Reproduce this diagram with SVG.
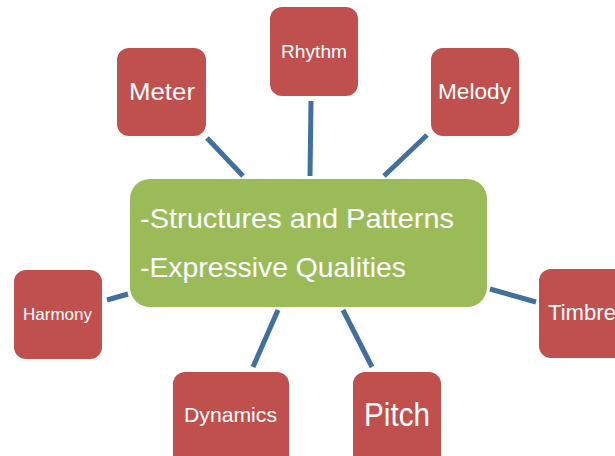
<svg xmlns="http://www.w3.org/2000/svg" width="615" height="456" viewBox="0 0 615 456">
<style>
.box{fill:#c0504d;}
.center{fill:#9bbb59;}
.t{fill:#ffffff;font-family:"Liberation Sans",Arial,sans-serif;}
.c line{stroke:#41709f;stroke-width:5;}
</style>
<rect width="615" height="456" fill="#ffffff"/>
<g class="c" id="connectors">
<line x1="207" y1="138" x2="243" y2="176"/>
<line x1="311" y1="101" x2="310" y2="176"/>
<line x1="427" y1="135" x2="384" y2="176"/>
<line x1="107" y1="300" x2="128" y2="294"/>
<line x1="490" y1="289" x2="536" y2="302"/>
<line x1="278" y1="310" x2="253" y2="367"/>
<line x1="343" y1="310" x2="372" y2="367"/>
</g>
<g id="center">
<rect class="center" x="130" y="179" width="357" height="128" rx="20"/>
<text class="t" x="140" y="228" font-size="28" textLength="314" lengthAdjust="spacingAndGlyphs">-Structures and Patterns</text>
<text class="t" x="140" y="277" font-size="28" textLength="266" lengthAdjust="spacingAndGlyphs">-Expressive Qualities</text>
</g>
<g id="meter">
<rect class="box" x="117" y="48" width="89" height="88" rx="12"/>
<text class="t" x="129" y="100" font-size="24" textLength="66" lengthAdjust="spacingAndGlyphs">Meter</text>
</g>
<g id="rhythm">
<rect class="box" x="270" y="7" width="88" height="89" rx="12"/>
<text class="t" x="281" y="58" font-size="18" textLength="66" lengthAdjust="spacingAndGlyphs">Rhythm</text>
</g>
<g id="melody">
<rect class="box" x="431" y="48" width="88" height="88" rx="12"/>
<text class="t" x="438" y="99" font-size="22" textLength="73" lengthAdjust="spacingAndGlyphs">Melody</text>
</g>
<g id="harmony">
<rect class="box" x="14" y="270" width="88" height="89" rx="12"/>
<text class="t" x="23" y="320" font-size="17" textLength="69" lengthAdjust="spacingAndGlyphs">Harmony</text>
</g>
<g id="timbre">
<rect class="box" x="539" y="269" width="88" height="89" rx="12"/>
<text class="t" x="548" y="320" font-size="22" textLength="68" lengthAdjust="spacingAndGlyphs">Timbre</text>
</g>
<g id="dynamics">
<rect class="box" x="173" y="372" width="116" height="100" rx="12"/>
<text class="t" x="184" y="422" font-size="21" textLength="93" lengthAdjust="spacingAndGlyphs">Dynamics</text>
</g>
<g id="pitch">
<rect class="box" x="353" y="372" width="88" height="100" rx="12"/>
<text class="t" x="364" y="426" font-size="33" textLength="66" lengthAdjust="spacingAndGlyphs">Pitch</text>
</g>
</svg>
